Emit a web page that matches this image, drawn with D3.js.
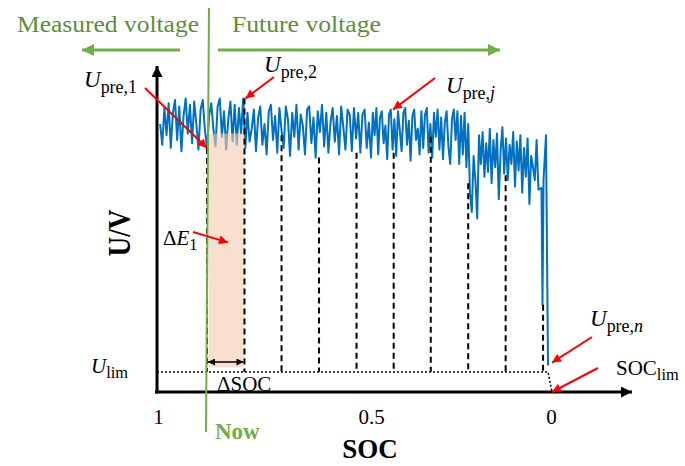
<!DOCTYPE html>
<html>
<head>
<meta charset="utf-8">
<script src="https://cdn.jsdelivr.net/npm/d3@7"></script>
<style>
  body { margin: 0; background: #fff; }
  svg { display: block; }
</style>
</head>
<body>
<div id="chart"></div>
<script>
// predicted voltage samples (V), one every 0.005 SOC from SOC 0.995
const voltage = [
  4.05, 3.92, 4.15, 3.98, 4.18, 3.90, 4.12, 4.20, 3.95, 4.16, 3.88, 4.10, 4.21, 3.99, 4.17, 3.93,
  4.19, 4.05, 3.89, 4.14, 4.20, 4.02, 3.90, 4.10, 4.18, 4.02, 3.91, 4.16, 4.21, 3.97, 4.13, 3.89,
  4.08, 4.19, 3.94, 4.17, 3.92, 4.15, 3.99, 4.21, 3.90, 4.12, 3.94,
  4.02, 4.14, 3.88, 4.09, 4.16, 3.92, 4.05, 3.86, 4.13, 4.17, 3.95, 4.10, 3.87, 4.15, 4.01, 3.90,
  4.16, 4.08, 3.85, 4.12, 3.97, 4.17, 3.89, 4.11, 4.04, 3.86, 4.14, 4.16, 3.93, 4.09, 3.84, 4.13,
  4.00, 4.17, 3.91, 4.12, 3.87, 4.06, 4.15, 3.94, 4.10, 3.86, 4.16, 4.03, 3.89, 4.14, 4.11, 3.88,
  4.15, 3.96, 4.12,
  3.87, 4.11, 4.14, 3.90, 4.06, 3.84, 4.12, 3.98, 4.15, 3.86, 4.09, 4.13, 3.93, 4.04, 3.83, 4.11,
  4.14, 3.89, 4.08, 3.85, 4.13, 4.01, 3.88, 4.12, 4.15, 3.92, 4.07, 3.82, 4.10, 4.14, 3.95, 4.02,
  3.86, 4.13, 3.90, 4.11, 4.15, 3.87, 4.05, 3.84, 4.12, 3.97, 4.14, 3.89, 4.09, 3.83, 4.06, 4.13,
  3.91, 3.80, 4.08, 4.14,
  3.95, 4.13, 3.80, 4.10, 3.86, 4.12, 3.78, 4.05,
  3.62, 3.50, 3.85, 3.70, 3.46, 3.98, 3.80, 4.00, 3.72, 3.93, 3.75, 4.02, 3.68, 3.95, 3.78, 3.99,
  3.58, 3.88, 4.03, 3.74, 3.96, 3.70, 3.92, 3.80, 4.00, 3.66, 3.94, 3.76, 3.98, 3.62, 3.90, 3.72,
  3.96, 3.55, 3.85, 3.78, 3.70, 3.95, 3.64
];
const socStart = 0.995;
const socStep = 0.005;

// last steep drop at the end of discharge
const tailSoc = [0.0264, 0.0236, 0.0208, 0.0139, 0.0083];
const tailU = [3.65, 2.92, 3.70, 3.98, 2.54];

// prediction points U_pre,1 ... U_pre,n
const markSoc = [0.885, 0.797, 0.710, 0.622, 0.534, 0.437, 0.334, 0.230, 0.126, 0.022];
const markU = [3.90, 4.21, 3.98, 3.84, 3.87, 3.87, 3.97, 3.68, 3.73, 2.92];

const uLim = 2.5;
const socLim = 0;
const nowSoc = 0.885;
const blockTopU = 3.99;
const blockBottomU = 2.53;

const xTicks = [1, 0.5, 0];
const xTickLabels = ["1", "0.5", "0"];

// canvas
const w = 685, h = 466;
const serif = "'Liberation Serif', 'DejaVu Serif', serif";
const green = "#70ad47", greenText = "#5b8e3c", blue = "#0070c0";

const x = d3.scaleLinear().domain([1, 0.5, 0]).range([158, 371, 551]);
const y = d3.scaleLinear().domain([2.375, 4.4]).range([392, 68]);

const x0 = x(1) - 1;       // y axis position
const y0 = y(2.375);       // x axis position
const xEnd = 632, yTop = 66;

const svg = d3.select("#chart").append("svg")
  .attr("width", w).attr("height", h);

// arrow heads
const defs = svg.append("defs");
function marker(id, color, len, wid) {
  defs.append("marker")
    .attr("id", id)
    .attr("markerUnits", "userSpaceOnUse")
    .attr("viewBox", "0 0 10 10")
    .attr("refX", 10).attr("refY", 5)
    .attr("markerWidth", len).attr("markerHeight", wid)
    .attr("orient", "auto-start-reverse")
    .append("path")
    .attr("d", "M0,0L10,5L0,10Z")
    .attr("fill", color);
}
marker("axisHead", "#000", 13, 11);
marker("redHead", "#ff0000", 11, 9);
marker("greenHead", green, 13, 12);
marker("smallHead", "#000", 8, 7);

// curve
const curve = voltage.map((u, i) => [socStart - i * socStep, u])
  .concat(tailSoc.map((s, i) => [s, tailU[i]]));

svg.append("path")
  .datum(curve)
  .attr("fill", "none")
  .attr("stroke", blue)
  .attr("stroke-width", 2)
  .attr("stroke-linejoin", "round")
  .attr("d", d3.line().x(d => x(d[0])).y(d => y(d[1])));

// energy block delta E1
svg.append("rect")
  .attr("x", x(markSoc[0]) + 1.5)
  .attr("y", y(blockTopU))
  .attr("width", x(markSoc[1]) - x(markSoc[0]) - 1.5)
  .attr("height", y(blockBottomU) - y(blockTopU))
  .attr("fill", "#f4c9ad")
  .attr("opacity", 0.6);

// dashed drop lines
svg.selectAll("line.mark")
  .data(markSoc)
  .enter()
  .append("line")
  .attr("class", "mark")
  .attr("x1", d => x(d)).attr("x2", d => x(d))
  .attr("y1", (d, i) => y(markU[i]))
  .attr("y2", y(uLim))
  .attr("stroke", "#000")
  .attr("stroke-width", 2)
  .attr("stroke-dasharray", "6,4");

// U_lim dotted line and drop to SOC_lim
const lastSoc = tailSoc[tailSoc.length - 1];
svg.append("path")
  .attr("d", "M" + x0 + "," + y(uLim) + "L" + x(lastSoc) + "," + y(uLim) +
             "L" + (x(socLim) + 1) + "," + y0)
  .attr("fill", "none")
  .attr("stroke", "#000")
  .attr("stroke-width", 1.5)
  .attr("stroke-dasharray", "2,2");

// delta SOC double arrow
svg.append("line")
  .attr("x1", x(markSoc[0]) + 1).attr("x2", x(markSoc[1]) - 1)
  .attr("y1", y(uLim) - 10).attr("y2", y(uLim) - 10)
  .attr("stroke", "#000").attr("stroke-width", 1.5)
  .attr("marker-start", "url(#smallHead)")
  .attr("marker-end", "url(#smallHead)");

// axes
svg.append("line")
  .attr("x1", x0).attr("y1", y0 + 1.5).attr("x2", x0).attr("y2", yTop)
  .attr("stroke", "#000").attr("stroke-width", 3)
  .attr("marker-end", "url(#axisHead)");
svg.append("line")
  .attr("x1", x0 - 2).attr("y1", y0).attr("x2", xEnd).attr("y2", y0)
  .attr("stroke", "#000").attr("stroke-width", 3)
  .attr("marker-end", "url(#axisHead)");

const xAxis = d3.axisBottom(x)
  .tickValues(xTicks)
  .tickFormat((d, i) => xTickLabels[i])
  .tickSize(0)
  .tickPadding(17);
const gx = svg.append("g")
  .attr("transform", "translate(0," + y0 + ")")
  .call(xAxis);
gx.select(".domain").remove();
gx.selectAll("text")
  .attr("font-family", serif)
  .attr("font-size", 21)
  .attr("fill", "#000");

// "Now" line
svg.append("line")
  .attr("x1", x(nowSoc) + 2).attr("y1", 8)
  .attr("x2", x(nowSoc) - 1).attr("y2", 432)
  .attr("stroke", green).attr("stroke-width", 2);

// measured / future arrows
svg.append("line")
  .attr("x1", 180).attr("y1", 50).attr("x2", 82).attr("y2", 50)
  .attr("stroke", green).attr("stroke-width", 3)
  .attr("marker-end", "url(#greenHead)");
svg.append("line")
  .attr("x1", 218).attr("y1", 50).attr("x2", 500).attr("y2", 50)
  .attr("stroke", green).attr("stroke-width", 3)
  .attr("marker-end", "url(#greenHead)");

svg.append("text")
  .attr("x", 17).attr("y", 32)
  .attr("font-family", serif).attr("font-size", 24)
  .attr("textLength", 182).attr("lengthAdjust", "spacingAndGlyphs")
  .attr("fill", greenText)
  .text("Measured voltage");
svg.append("text")
  .attr("x", 232).attr("y", 32)
  .attr("font-family", serif).attr("font-size", 24)
  .attr("textLength", 149).attr("lengthAdjust", "spacingAndGlyphs")
  .attr("fill", greenText)
  .text("Future voltage");

svg.append("text")
  .attr("x", 215).attr("y", 439)
  .attr("font-family", serif).attr("font-size", 23).attr("font-weight", "bold")
  .attr("fill", green)
  .text("Now");

svg.append("text")
  .attr("x", 370).attr("y", 458)
  .attr("text-anchor", "middle")
  .attr("font-family", serif).attr("font-size", 27).attr("font-weight", "bold")
  .text("SOC");

svg.append("text")
  .attr("transform", "translate(130,233) rotate(-90)")
  .attr("text-anchor", "middle")
  .attr("font-family", serif).attr("font-size", 31).attr("font-weight", "bold")
  .attr("textLength", 47).attr("lengthAdjust", "spacingAndGlyphs")
  .text("U/V");

// math labels: optional prefix, main symbol, subscript (with optional italic tail)
function mathLabel(px, py, pre, main, sub, size, italicMain, subItalic) {
  const t = svg.append("text")
    .attr("x", px).attr("y", py)
    .attr("font-family", serif).attr("font-size", size)
    .attr("fill", "#000");
  if (pre) t.append("tspan").text(pre);
  t.append("tspan")
    .attr("font-style", italicMain ? "italic" : "normal")
    .text(main);
  t.append("tspan")
    .attr("dy", size * 0.25)
    .attr("font-size", size * 0.78)
    .text(sub);
  if (subItalic) {
    t.append("tspan")
      .attr("font-style", "italic")
      .attr("font-size", size * 0.78)
      .text(subItalic);
  }
  return t;
}
mathLabel(84, 87, null, "U", "pre,1", 23, true);
mathLabel(264, 72, null, "U", "pre,2", 23, true);
mathLabel(446, 93, null, "U", "pre,", 23, true, "j");
mathLabel(590, 326, null, "U", "pre,", 23, true, "n");
mathLabel(616, 375, null, "SOC", "lim", 21, false);
mathLabel(91, 373, null, "U", "lim", 21, true);
mathLabel(163, 245, "\u0394", "E", "1", 21, true);

svg.append("text")
  .attr("x", 217).attr("y", 391)
  .attr("font-family", serif).attr("font-size", 21)
  .text("\u0394SOC");

// red pointers
const pointers = [
  { from: [145, 88], to: [x(markSoc[0]), y(markU[0])] },
  { from: [274, 77], to: [x(markSoc[1]) + 1, y(markU[1])] },
  { from: [435, 78], to: [x(0.439), y(4.14)] },
  { from: [592, 337], to: [x(lastSoc) + 4, y(tailU[tailU.length - 1]) - 3] },
  { from: [598, 368], to: [x(socLim) + 1, y0] },
  { from: [193, 232], to: [228, y(3.31)] }
];
svg.selectAll("line.pointer")
  .data(pointers)
  .enter()
  .append("line")
  .attr("class", "pointer")
  .attr("x1", d => d.from[0]).attr("y1", d => d.from[1])
  .attr("x2", d => d.to[0]).attr("y2", d => d.to[1])
  .attr("stroke", "#ff0000").attr("stroke-width", 2)
  .attr("marker-end", "url(#redHead)");
</script>
</body>
</html>
